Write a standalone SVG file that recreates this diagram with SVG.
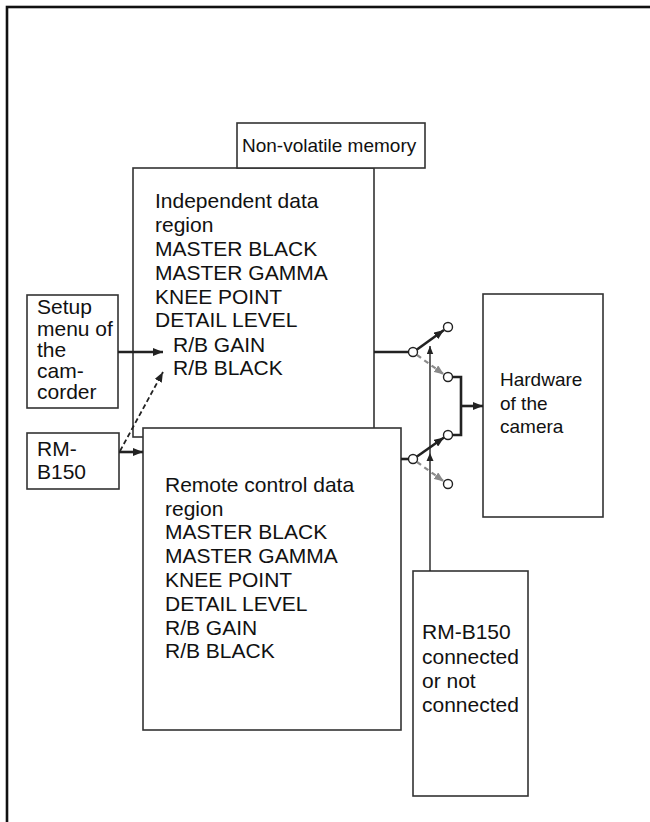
<svg xmlns="http://www.w3.org/2000/svg" width="650" height="822" viewBox="0 0 650 822">
<defs>
<style>
text{font-family:"Liberation Sans",Arial,sans-serif;font-size:21px;fill:#111}
.sm{font-size:19px}
.box{fill:#fff;stroke:#333;stroke-width:1.6}
.w{fill:none;stroke:#222;stroke-width:2.6}
.thin{fill:none;stroke:#222;stroke-width:1.4}
.dash{fill:none;stroke:#222;stroke-width:1.8;stroke-dasharray:5 3}
.gdash{fill:none;stroke:#8a8a8a;stroke-width:2.2;stroke-dasharray:5 4}
.c{fill:#fff;stroke:#222;stroke-width:1.4}
</style>
<marker id="ah" viewBox="0 0 10 8" refX="10" refY="4" markerWidth="10" markerHeight="8" markerUnits="userSpaceOnUse" orient="auto"><path d="M0,0L10,4L0,8z" fill="#222"/></marker>
<marker id="ahs" viewBox="0 0 10 8" refX="10" refY="4" markerWidth="8" markerHeight="7" markerUnits="userSpaceOnUse" orient="auto"><path d="M0,0L10,4L0,8z" fill="#222"/></marker>
<marker id="ahg" viewBox="0 0 10 8" refX="10" refY="4" markerWidth="10" markerHeight="8" markerUnits="userSpaceOnUse" orient="auto"><path d="M0,0L10,4L0,8z" fill="#8a8a8a"/></marker>
</defs>
<rect x="0" y="0" width="650" height="822" fill="#fff"/>
<rect x="7" y="7" width="720" height="900" fill="none" stroke="#111" stroke-width="2.6"/>

<g id="independent">
<rect class="box" x="133" y="168" width="241" height="269"/>
<text x="155" y="208">Independent data</text>
<text x="155" y="232">region</text>
<text x="155" y="256">MASTER BLACK</text>
<text x="155" y="279.5">MASTER GAMMA</text>
<text x="155" y="303.5">KNEE POINT</text>
<text x="155" y="327">DETAIL LEVEL</text>
<text x="173" y="351.5">R/B GAIN</text>
<text x="173" y="375">R/B BLACK</text>
</g>
<g id="nonvolatile">
<rect class="box" x="237" y="123" width="188" height="45"/>
<text class="sm" x="242" y="152">Non-volatile memory</text>
</g>
<g id="remote">
<rect class="box" x="143" y="428" width="258" height="302"/>
<text x="165" y="492">Remote control data</text>
<text x="165" y="515.5">region</text>
<text x="165" y="539">MASTER BLACK</text>
<text x="165" y="563">MASTER GAMMA</text>
<text x="165" y="587">KNEE POINT</text>
<text x="165" y="611">DETAIL LEVEL</text>
<text x="165" y="634.5">R/B GAIN</text>
<text x="165" y="658">R/B BLACK</text>
</g>
<g id="setup">
<rect class="box" x="27" y="295" width="91" height="113"/>
<text x="37" y="314">Setup</text>
<text x="37" y="335.5">menu of</text>
<text x="37" y="357">the</text>
<text x="37" y="378">cam-</text>
<text x="37" y="399">corder</text>
</g>
<g id="rmb150">
<rect class="box" x="27" y="433" width="92" height="56"/>
<text x="37" y="456">RM-</text>
<text x="37" y="479">B150</text>
</g>
<g id="hardware">
<rect class="box" x="483" y="294" width="120" height="223"/>
<text class="sm" x="500" y="386">Hardware</text>
<text class="sm" x="500" y="409.5">of the</text>
<text class="sm" x="500" y="433">camera</text>
</g>
<g id="rmconnected">
<rect class="box" x="413" y="571" width="115" height="225"/>
<text x="422" y="639">RM-B150</text>
<text x="422" y="664">connected</text>
<text x="422" y="688">or not</text>
<text x="422" y="712">connected</text>
</g>

<g id="connectors">
<line class="w" x1="118" y1="352" x2="163" y2="352" marker-end="url(#ah)"/>
<line class="w" x1="119" y1="452" x2="143" y2="452" marker-end="url(#ah)"/>
<line class="dash" x1="120" y1="451" x2="163" y2="372" marker-end="url(#ah)"/>
<line class="w" x1="374" y1="352" x2="408.5" y2="352"/>
<line class="w" x1="401" y1="459" x2="408.5" y2="459"/>
<line class="w" x1="417" y1="349.5" x2="444" y2="330" marker-end="url(#ah)"/>
<line class="w" x1="417" y1="456.5" x2="444" y2="437.5" marker-end="url(#ah)"/>
<line class="gdash" x1="417" y1="355" x2="444" y2="374.5" marker-end="url(#ahg)"/>
<line class="gdash" x1="417" y1="462" x2="444" y2="481.5" marker-end="url(#ahg)"/>
<polyline class="w" points="452.5,377 461,377 461,435 452.5,435"/>
<line class="w" x1="461" y1="406" x2="483" y2="406" marker-end="url(#ah)"/>
<line class="thin" x1="430" y1="571" x2="430" y2="346" marker-end="url(#ahs)"/>
<path d="M430,453L426.5,461L433.5,461z" fill="#222"/>
<circle class="c" cx="413" cy="352" r="4.5"/>
<circle class="c" cx="448" cy="327" r="4.5"/>
<circle class="c" cx="448" cy="377" r="4.5"/>
<circle class="c" cx="413" cy="459" r="4.5"/>
<circle class="c" cx="448" cy="435" r="4.5"/>
<circle class="c" cx="448" cy="484" r="4.5"/>
</g>
</svg>
